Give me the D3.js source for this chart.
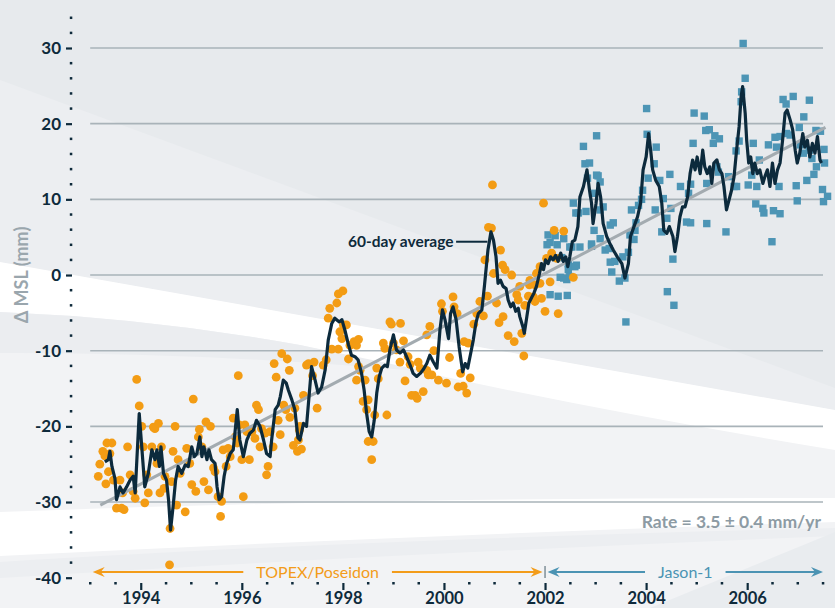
<!DOCTYPE html>
<html>
<head>
<meta charset="utf-8">
<script src="https://cdn.jsdelivr.net/npm/d3@7"></script>
<style>
  body { margin: 0; background: #fff; }
  svg { display: block; font-family: Lato, "Open Sans", sans-serif; }
</style>
</head>
<body>
<svg id="chart" width="835" height="608"></svg>
<script>
// --- Data (year, mm) ---
const yearLabels = [1994, 1996, 1998, 2000, 2002, 2004, 2006];
const yMajor = [-40, -30, -20, -10, 0, 10, 20, 30];
const gridValues = [-30, -20, -10, 0, 10, 20, 30];

// linear fit: 3.5 mm/yr
const trend = [[1993.2, -30.4], [2007.55, 19.5]];

// TOPEX/Poseidon cycles (orange dots)
const topex = [
  [1993.16,-26.6],[1993.19,-25.0],[1993.25,-23.3],[1993.29,-23.9],[1993.31,-27.6],[1993.33,-22.2],[1993.36,-26.0],[1993.39,-23.6],
  [1993.43,-22.2],[1993.46,-27.1],[1993.52,-30.8],[1993.59,-27.1],[1993.62,-30.8],[1993.67,-31.0],[1993.64,-28.8],[1993.74,-22.7],
  [1993.79,-26.4],[1993.85,-28.6],[1993.89,-29.5],[1993.92,-13.8],[1993.97,-17.3],[1994.02,-20.0],[1994.05,-22.7],[1994.08,-30.1],
  [1994.12,-26.4],[1994.15,-28.8],[1994.22,-22.7],[1994.25,-20.1],[1994.28,-20.3],[1994.32,-24.9],[1994.35,-19.6],[1994.38,-28.8],
  [1994.41,-22.7],[1994.46,-28.2],[1994.48,-26.6],[1994.57,-38.3],[1994.58,-33.5],[1994.61,-27.3],[1994.64,-23.3],[1994.68,-20.0],
  [1994.71,-30.4],[1994.74,-24.4],[1994.78,-26.2],[1994.88,-31.3],[1994.91,-22.9],[1994.97,-24.9],[1995.01,-27.7],[1995.04,-16.4],
  [1995.09,-28.6],[1995.14,-21.4],[1995.16,-20.4],[1995.21,-22.7],[1995.25,-27.3],[1995.29,-19.4],[1995.34,-28.4],[1995.38,-20.0],
  [1995.44,-25.5],[1995.47,-26.0],[1995.53,-29.3],[1995.58,-31.9],[1995.60,-29.9],[1995.63,-23.1],[1995.69,-25.3],[1995.73,-22.9],
  [1995.77,-24.0],[1995.83,-18.9],[1995.87,-21.4],[1995.91,-22.2],[1995.93,-13.3],[1995.95,-19.8],[1996.00,-24.4],[1996.03,-29.3],
  [1996.06,-19.8],[1996.10,-20.7],[1996.15,-24.4],[1996.20,-20.7],[1996.26,-21.6],[1996.29,-17.2],[1996.33,-17.8],[1996.36,-22.7],
  [1996.39,-20.3],[1996.46,-20.9],[1996.49,-26.4],[1996.52,-25.3],[1996.56,-20.7],[1996.62,-22.7],[1996.64,-11.7],[1996.68,-13.5],
  [1996.72,-19.2],[1996.76,-21.1],[1996.79,-10.4],[1996.83,-17.2],[1996.87,-17.8],[1996.90,-11.1],[1996.94,-12.6],[1996.95,-18.8],
  [1997.02,-22.5],[1997.05,-17.6],[1997.10,-23.3],[1997.12,-21.8],[1997.14,-20.5],[1997.15,-20.0],[1997.18,-23.0],[1997.22,-15.9],
  [1997.28,-11.9],[1997.32,-11.7],[1997.40,-13.3],[1997.43,-11.5],[1997.49,-17.6],[1997.61,-11.9],[1997.67,-11.2],[1997.71,-5.7],
  [1997.74,-4.4],[1997.78,-9.8],[1997.88,-3.7],[1997.91,-2.5],[1997.91,-9.8],[1997.94,-7.5],[1997.98,-8.4],[1998.00,-2.1],
  [1998.01,-6.6],[1998.07,-6.6],[1998.11,-11.1],[1998.14,-9.3],[1998.22,-8.8],[1998.27,-9.3],[1998.27,-13.9],[1998.31,-8.5],
  [1998.31,-12.1],[1998.34,-12.6],[1998.40,-16.7],[1998.44,-13.9],[1998.47,-17.8],[1998.50,-16.5],[1998.50,-22.0],[1998.57,-24.4],
  [1998.60,-22.0],[1998.63,-18.5],[1998.67,-12.3],[1998.70,-13.7],[1998.80,-9.0],[1998.83,-9.7],[1998.87,-18.5],[1998.93,-6.2],
  [1998.96,-6.5],[1999.00,-9.0],[1999.06,-9.9],[1999.13,-11.5],[1999.14,-6.4],[1999.20,-8.7],[1999.23,-14.0],[1999.29,-10.8],
  [1999.33,-11.8],[1999.36,-15.9],[1999.43,-15.9],[1999.47,-16.3],[1999.49,-11.5],[1999.53,-12.3],[1999.59,-15.4],[1999.66,-12.6],
  [1999.66,-7.9],[1999.69,-13.2],[1999.72,-6.8],[1999.76,-13.2],[1999.80,-10.0],[1999.89,-13.9],[1999.95,-3.8],[1999.97,-4.8],
  [2000.05,-14.3],[2000.11,-10.9],[2000.18,-2.9],[2000.20,-4.2],[2000.26,-5.1],[2000.28,-14.8],[2000.33,-13.0],[2000.38,-14.7],
  [2000.45,-15.6],[2000.40,-8.8],[2000.48,-9.0],[2000.52,-13.6],[2000.59,-6.5],[2000.65,-5.1],[2000.71,-3.5],[2000.78,-5.4],
  [2000.81,2.0],[2000.86,-2.8],[2000.88,6.3],[2000.94,6.2],[2000.96,11.9],[2000.98,0.2],[2001.04,-3.7],[2001.09,-6.3],
  [2001.12,3.3],[2001.16,1.3],[2001.17,-5.5],[2001.21,0.7],[2001.27,-8.0],[2001.34,0.0],[2001.39,-8.8],[2001.44,-2.6],
  [2001.47,-3.3],[2001.50,-1.5],[2001.54,-7.7],[2001.58,-10.7],[2001.60,-4.0],[2001.67,-2.8],[2001.69,-1.3],[2001.70,-0.7],
  [2001.77,-2.9],[2001.80,-1.3],[2001.80,-3.5],[2001.83,0.2],[2001.90,-1.1],[2001.90,1.1],[2001.93,-3.1],[2001.97,9.5],
  [2002.00,-4.8],[2002.03,2.2],[2002.10,-0.9],[2002.13,2.9],[2002.18,5.9],[2002.23,2.2],[2002.26,-5.1],[2002.37,5.8],[2002.56,-0.3]
];

// Jason-1 cycles (blue squares)
const jason = [
  [2002.04,4.0],[2002.06,5.3],[2002.10,4.3],[2002.10,-2.6],[2002.20,5.2],[2002.24,4.0],[2002.26,-2.8],[2002.30,-0.3],
  [2002.33,2.3],[2002.37,4.8],[2002.43,-0.6],[2002.44,-2.7],[2002.46,0.7],[2002.53,3.7],[2002.56,9.5],[2002.61,8.2],
  [2002.62,1.3],[2002.81,8.4],[2002.92,4.1],[2002.97,5.9],[2003.02,13.2],[2002.49,3.7],[2002.46,1.5],[2002.37,-0.4],
  [2002.49,-0.2],[2002.59,1.1],[2002.66,8.2],[2002.69,3.7],[2002.76,17.0],[2002.79,14.7],[2002.84,12.8],[2002.88,14.8],
  [2002.92,3.8],[2002.94,10.8],[2003.02,18.4],[2003.05,13.1],[2003.09,12.3],[2003.09,4.8],[2003.09,8.6],[2003.15,9.0],
  [2003.19,3.3],[2003.27,3.5],[2003.29,6.6],[2003.29,1.7],[2003.32,0.4],[2003.35,6.9],[2003.38,1.8],[2003.47,-0.8],
  [2003.54,2.4],[2003.58,-0.4],[2003.60,-6.2],[2003.65,3.0],[2003.68,5.3],[2003.71,8.6],[2003.76,4.7],[2003.78,5.9],
  [2003.80,6.9],[2003.85,9.2],[2003.91,10.0],[2003.93,11.2],[2004.01,22.0],[2004.02,18.6],[2004.04,12.8],[2004.16,14.7],
  [2004.18,8.6],[2004.20,16.9],[2004.27,12.5],[2004.31,5.7],[2004.34,10.1],[2004.41,7.5],[2004.42,-2.2],[2004.47,13.3],
  [2004.49,8.8],[2004.53,2.1],[2004.55,-4.0],[2004.68,11.7],[2004.80,7.0],[2004.84,10.8],[2004.88,12.0],[2004.88,6.9],
  [2004.93,17.4],[2004.95,21.4],[2005.15,21.0],[2005.18,19.1],[2005.20,12.1],[2005.20,6.8],[2005.25,19.2],[2005.33,17.4],
  [2005.36,18.4],[2005.40,14.3],[2005.43,13.6],[2005.45,18.0],[2005.58,5.7],[2005.63,13.0],[2005.74,11.7],[2005.78,16.4],
  [2005.79,11.7],[2005.84,17.7],[2005.88,22.9],[2005.89,24.2],[2005.92,30.6],[2005.96,26.0],[2006.02,11.9],[2006.09,13.2],
  [2006.12,17.4],[2006.17,9.4],[2006.19,11.7],[2006.24,15.2],[2006.31,8.8],[2006.33,8.2],[2006.42,17.2],[2006.49,4.4],
  [2006.52,8.5],[2006.55,18.2],[2006.58,16.9],[2006.63,11.7],[2006.65,18.3],[2006.65,8.1],[2006.71,23.2],[2006.77,22.6],
  [2006.78,18.7],[2006.85,18.5],[2006.91,23.6],[2006.97,11.8],[2006.99,9.8],[2007.03,19.5],[2007.05,17.2],[2007.11,16.1],
  [2007.12,20.9],[2007.18,12.5],[2007.23,23.1],[2007.23,16.5],[2007.28,15.4],[2007.32,13.3],[2007.36,19.1],[2007.37,14.3],
  [2007.45,19.0],[2007.49,11.3],[2007.51,9.7],[2007.52,16.6],[2007.53,14.8],[2007.59,10.4]
];

// 60-day running average
const avg60 = [
  [1993.29,-24.7],[1993.36,-24.4],[1993.39,-23.3],[1993.43,-25.3],[1993.49,-26.9],[1993.52,-29.7],[1993.59,-28.0],[1993.65,-28.8],
  [1993.72,-28.0],[1993.79,-27.1],[1993.85,-26.6],[1993.89,-28.8],[1993.97,-18.3],[1994.08,-28.0],[1994.15,-26.2],[1994.22,-23.1],
  [1994.28,-24.4],[1994.32,-23.1],[1994.37,-25.3],[1994.40,-22.7],[1994.45,-26.2],[1994.51,-27.1],[1994.55,-29.7],[1994.59,-33.7],
  [1994.64,-30.6],[1994.69,-27.1],[1994.74,-25.3],[1994.81,-26.2],[1994.88,-25.1],[1994.94,-25.3],[1995.01,-22.7],[1995.06,-24.0],
  [1995.11,-23.6],[1995.17,-21.4],[1995.21,-24.0],[1995.25,-22.7],[1995.31,-24.4],[1995.35,-23.1],[1995.40,-24.4],[1995.47,-24.9],
  [1995.51,-28.0],[1995.55,-29.7],[1995.60,-29.3],[1995.65,-26.6],[1995.70,-24.9],[1995.77,-23.6],[1995.83,-23.1],[1995.91,-17.8],
  [1995.96,-21.8],[1996.03,-24.0],[1996.10,-21.8],[1996.16,-20.9],[1996.23,-20.5],[1996.29,-19.2],[1996.36,-20.0],[1996.43,-21.8],
  [1996.49,-23.6],[1996.56,-24.0],[1996.59,-21.8],[1996.66,-17.8],[1996.72,-17.2],[1996.76,-16.1],[1996.82,-13.9],[1996.88,-14.3],
  [1996.92,-15.2],[1996.99,-16.5],[1997.05,-17.8],[1997.11,-21.5],[1997.15,-21.8],[1997.22,-19.6],[1997.28,-20.0],[1997.38,-12.1],
  [1997.45,-13.9],[1997.51,-15.6],[1997.58,-14.8],[1997.65,-12.5],[1997.71,-8.6],[1997.78,-6.4],[1997.84,-5.7],[1997.93,-6.2],
  [1997.98,-5.9],[1998.04,-7.3],[1998.11,-9.2],[1998.17,-10.6],[1998.24,-10.8],[1998.30,-11.2],[1998.37,-13.0],[1998.42,-15.2],
  [1998.47,-18.3],[1998.52,-20.7],[1998.57,-21.4],[1998.62,-19.2],[1998.67,-15.6],[1998.72,-13.4],[1998.77,-12.3],[1998.83,-11.9],
  [1998.88,-12.1],[1998.93,-9.9],[1999.00,-7.9],[1999.06,-9.9],[1999.13,-10.3],[1999.20,-9.9],[1999.26,-10.8],[1999.33,-11.9],
  [1999.39,-13.0],[1999.46,-13.4],[1999.53,-13.0],[1999.59,-12.5],[1999.66,-11.7],[1999.72,-10.6],[1999.79,-11.5],[1999.86,-12.3],
  [1999.92,-7.3],[1999.97,-4.6],[2000.02,-5.9],[2000.09,-8.4],[2000.13,-5.1],[2000.18,-4.2],[2000.24,-5.9],[2000.30,-9.5],
  [2000.37,-12.8],[2000.42,-11.7],[2000.47,-12.3],[2000.53,-10.3],[2000.58,-8.6],[2000.63,-6.4],[2000.68,-5.1],[2000.75,-4.6],
  [2000.80,-1.5],[2000.87,3.3],[2000.93,5.7],[2000.98,4.6],[2001.03,2.4],[2001.07,-1.1],[2001.12,-0.7],[2001.17,-1.5],
  [2001.23,-1.8],[2001.27,-3.3],[2001.32,-4.2],[2001.37,-3.7],[2001.42,-4.8],[2001.47,-4.4],[2001.50,-5.5],[2001.56,-6.8],
  [2001.59,-7.7],[2001.64,-5.5],[2001.68,-3.7],[2001.74,-2.9],[2001.78,-2.4],[2001.83,-1.5],[2001.89,0.2],[2001.93,1.5],
  [2001.97,0.7],[2002.01,2.0],[2002.06,1.5],[2002.11,2.4],[2002.16,2.0],[2002.21,2.6],[2002.26,1.8],[2002.31,2.9],
  [2002.36,1.8],[2002.41,2.4],[2002.45,1.1],[2002.49,2.4],[2002.54,4.4],[2002.59,4.6],[2002.65,6.4],[2002.69,10.3],
  [2002.76,11.7],[2002.83,13.9],[2002.88,11.2],[2002.92,9.5],[2002.95,6.8],[2003.01,9.5],[2003.05,12.1],[2003.10,10.3],
  [2003.15,6.8],[2003.22,5.1],[2003.28,4.2],[2003.35,3.3],[2003.43,2.4],[2003.52,1.5],[2003.58,-0.4],[2003.65,1.5],
  [2003.69,5.1],[2003.76,6.4],[2003.83,7.7],[2003.89,9.5],[2003.94,13.9],[2004.00,15.6],[2004.05,18.7],[2004.09,16.5],
  [2004.13,13.9],[2004.19,12.5],[2004.26,11.7],[2004.31,9.5],[2004.35,5.9],[2004.41,5.5],[2004.46,6.4],[2004.53,5.1],
  [2004.57,3.1],[2004.62,5.1],[2004.67,7.7],[2004.72,9.0],[2004.77,9.0],[2004.82,10.3],[2004.87,13.4],[2004.92,15.2],
  [2004.97,13.9],[2005.01,15.6],[2005.07,13.4],[2005.12,16.5],[2005.16,14.3],[2005.21,13.4],[2005.26,14.3],[2005.30,12.1],
  [2005.34,14.8],[2005.40,15.2],[2005.45,13.9],[2005.50,13.4],[2005.54,11.7],[2005.59,8.6],[2005.64,9.9],[2005.69,11.2],
  [2005.74,13.0],[2005.79,16.5],[2005.84,19.6],[2005.88,23.6],[2005.91,24.9],[2005.96,21.4],[2005.99,17.8],[2006.03,14.8],
  [2006.07,15.6],[2006.11,13.4],[2006.15,14.8],[2006.20,13.4],[2006.25,13.9],[2006.31,12.1],[2006.35,13.0],[2006.40,13.9],
  [2006.45,11.7],[2006.50,14.8],[2006.55,12.1],[2006.60,13.9],[2006.65,14.8],[2006.70,17.8],[2006.75,21.4],[2006.79,21.8],
  [2006.85,20.5],[2006.90,19.2],[2006.95,16.5],[2006.99,14.8],[2007.04,16.1],[2007.10,18.7],[2007.14,16.9],[2007.19,17.8],
  [2007.24,15.6],[2007.29,17.4],[2007.34,16.1],[2007.39,18.3],[2007.44,15.2],[2007.47,14.8]
];

// mission spans along the bottom
const missions = [
  { name: "TOPEX/Poseidon", from: 1993.05, to: 2001.95, color: "#f39c1a" },
  { name: "Jason-1", from: 2002.05, to: 2007.5, color: "#4b93b3" }
];

// --- Background swooshes (decoration only) ---
const bgShapes = [
  ["#f2f3f5", "M0,0H835V608H0Z"],
  ["#e7eaed", "M0,0H835V410L0,262Z"],
  ["#eceef1", "M0,80L835,388V410L0,262Z"],
  ["#ffffff", "M0,262L835,410V450Q560,405 300,345Q150,318 0,312Z"],
  ["#ebedf0", "M0,312Q150,318 300,345L430,372Q200,352 0,353Z"],
  ["#ffffff", "M0,512Q400,497 835,498V522Q420,535 0,556Z"],
  ["#eceef1", "M0,562Q350,540 835,528V536Q350,556 0,578Z"],
  ["#e9ecef", "M835,532V608H650Z"]
];

const svg = d3.select("#chart");
const ink = "#0e2a3b";

const x = d3.scaleLinear().domain([1993, 2007.5]).range([90.2, 823]);
const y = d3.scaleLinear().domain([-40, 30]).range([577.7, 48]);

// background
svg.append("g").selectAll("path")
  .data(bgShapes)
  .enter().append("path")
  .attr("d", d => d[1])
  .attr("fill", d => d[0]);

// gridlines
svg.append("g").selectAll("line")
  .data(gridValues)
  .enter().append("line")
  .attr("x1", x(1993)).attr("x2", x(2007.5))
  .attr("y1", d => y(d)).attr("y2", d => y(d))
  .attr("stroke", "#a9b3b9")
  .attr("stroke-width", 1.6);

// y axis
const yAxis = svg.append("g")
  .attr("transform", "translate(72,0)")
  .call(d3.axisLeft(y).tickValues(yMajor).tickSize(6).tickPadding(5).tickFormat(d => String(d)));
yAxis.select(".domain").remove();
yAxis.selectAll(".tick line").attr("stroke", ink).attr("stroke-width", 2.2);
yAxis.selectAll(".tick text")
  .attr("fill", ink)
  .style("font-size", "17px")
  .style("font-weight", "700")
  .style("font-family", "Lato, sans-serif");

// y minor dots every 2 mm
const yMinor = d3.range(-38, 35, 2).filter(v => v % 10 !== 0);
svg.append("g").selectAll("rect")
  .data(yMinor)
  .enter().append("rect")
  .attr("x", 69.8).attr("y", d => y(d) - 1.2)
  .attr("width", 2.5).attr("height", 2.5)
  .attr("fill", ink);

// x axis
const xAxis = svg.append("g")
  .attr("transform", "translate(0,583)")
  .call(d3.axisBottom(x).tickValues(yearLabels).tickSize(7).tickPadding(2).tickFormat(d => String(d)));
xAxis.select(".domain").remove();
xAxis.selectAll(".tick line").attr("stroke", ink).attr("stroke-width", 2.2);
xAxis.selectAll(".tick text")
  .attr("fill", ink)
  .style("font-size", "16.5px")
  .style("font-weight", "700")
  .style("font-family", "Lato, sans-serif");

// x minor dots every half year
const xMinor = d3.range(1993, 2007.51, 0.5).filter(t => !yearLabels.includes(t));
svg.append("g").selectAll("rect")
  .data(xMinor)
  .enter().append("rect")
  .attr("x", d => x(d) - 1.2).attr("y", 582)
  .attr("width", 2.5).attr("height", 2.5)
  .attr("fill", ink);

// axis title
svg.append("text")
  .attr("transform", "translate(28,275) rotate(-90)")
  .attr("text-anchor", "middle")
  .attr("fill", "#9aa6ad")
  .style("font-size", "18px")
  .style("font-weight", "700")
  .text("\u0394 MSL (mm)");

// Jason-1 squares
const sq = 7.4;
svg.append("g").selectAll("rect")
  .data(jason)
  .enter().append("rect")
  .attr("x", d => x(d[0]) - sq / 2)
  .attr("y", d => y(d[1]) - sq / 2)
  .attr("width", sq).attr("height", sq)
  .attr("fill", "#4d95b5");

// TOPEX dots
svg.append("g").selectAll("circle")
  .data(topex)
  .enter().append("circle")
  .attr("cx", d => x(d[0]))
  .attr("cy", d => y(d[1]))
  .attr("r", 4.4)
  .attr("fill", "#f39c14");

// trend line
svg.append("line")
  .attr("x1", x(trend[0][0])).attr("y1", y(trend[0][1]))
  .attr("x2", x(trend[1][0])).attr("y2", y(trend[1][1]))
  .attr("stroke", "#a3abb0")
  .attr("stroke-width", 3);

// 60-day average
const line = d3.line().x(d => x(d[0])).y(d => y(d[1]));
svg.append("path")
  .datum(avg60)
  .attr("d", line)
  .attr("fill", "none")
  .attr("stroke", "#0c2a3c")
  .attr("stroke-width", 3.2)
  .attr("stroke-linejoin", "round");

// annotation for the running mean
svg.append("line")
  .attr("x1", x(2000.24)).attr("x2", x(2000.86))
  .attr("y1", y(4.4)).attr("y2", y(4.4))
  .attr("stroke", "#0c2a3c").attr("stroke-width", 2);
svg.append("text")
  .attr("x", x(2000.19)).attr("y", y(4.4))
  .attr("dy", "0.33em")
  .attr("text-anchor", "end")
  .attr("fill", ink)
  .style("font-size", "15.5px")
  .style("font-weight", "700")
  .text("60-day average");

// rate label
svg.append("text")
  .attr("x", 821).attr("y", 528)
  .attr("text-anchor", "end")
  .attr("fill", "#8d9ba4")
  .style("font-size", "17.5px")
  .style("font-weight", "700")
  .text("Rate = 3.5 \u00B1 0.4 mm/yr");

// mission arrows
const arrowY = 572;
const head = (tipX, dir) => {
  // dir = -1 points left, +1 points right
  const b = tipX - dir * 12, n = tipX - dir * 8;
  return `M${tipX},${arrowY}L${b},${arrowY - 5}L${n},${arrowY}L${b},${arrowY + 5}Z`;
};
missions.forEach(m => {
  const g = svg.append("g");
  const x0 = x(m.from), x1 = x(m.to), mid = (x0 + x1) / 2;
  const label = g.append("text")
    .attr("x", mid).attr("y", arrowY)
    .attr("dy", "0.35em")
    .attr("text-anchor", "middle")
    .attr("fill", m.color)
    .style("font-size", "16px")
    .text(m.name);
  const w = label.node().getComputedTextLength();
  const gap = 13;
  g.append("line").attr("x1", x0 + 4).attr("x2", mid - w / 2 - gap)
    .attr("y1", arrowY).attr("y2", arrowY)
    .attr("stroke", m.color).attr("stroke-width", 2);
  g.append("line").attr("x1", mid + w / 2 + gap).attr("x2", x1 - 4)
    .attr("y1", arrowY).attr("y2", arrowY)
    .attr("stroke", m.color).attr("stroke-width", 2);
  g.append("path").attr("d", head(x0, -1)).attr("fill", m.color);
  g.append("path").attr("d", head(x1, 1)).attr("fill", m.color);
});
// separator at the mission switch
svg.append("line")
  .attr("x1", x(2002)).attr("x2", x(2002))
  .attr("y1", arrowY - 6).attr("y2", arrowY + 6)
  .attr("stroke", "#7f8f98").attr("stroke-width", 1.5);
</script>
</body>
</html>
